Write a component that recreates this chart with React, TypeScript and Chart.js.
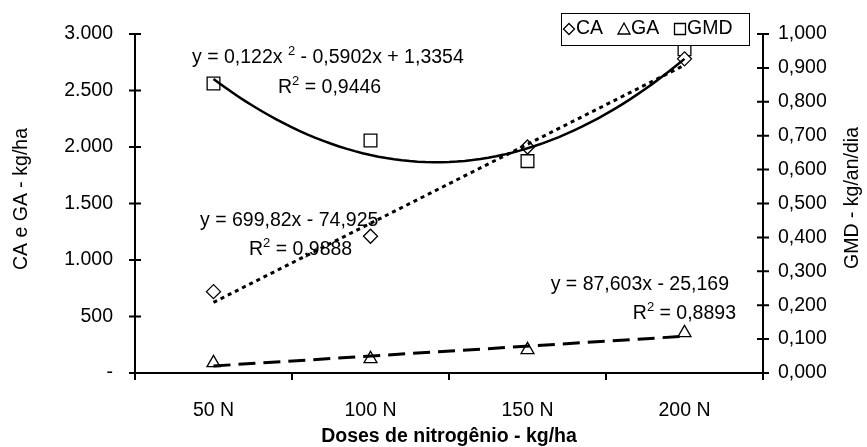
import React, { useEffect, useRef } from 'react';
import { Chart, registerables } from 'chart.js';
Chart.register(...registerables);

const categories = ['50 N', '100 N', '150 N', '200 N'];
const xPositions = [1, 2, 3, 4];
const caValues = [720, 1210, 2000, 2780];
const gaValues = [90, 125, 205, 355];
const gmdValues = [0.854, 0.686, 0.625, 0.955];
// trendline coefficients as printed on the chart
const caTrend = [699.82, -74.925];
const gaTrend = [87.603, -25.169];
const gmdTrend = [0.122, -0.5902, 1.3354];
const leftTitle = 'CA e GA - kg/ha';
const rightTitle = 'GMD - kg/an/dia';
const xTitle = 'Doses de nitrogênio - kg/ha';

const FONT = "'Liberation Sans', Arial, sans-serif";
const FS = 19.5;

const fmtThousands = (v: number) =>
  v === 0 ? '-' : String(Math.round(v)).replace(/\B(?=(\d{3})+(?!\d))/g, '.');

type Part = { t: string; sup?: boolean };
function richWidth(ctx: CanvasRenderingContext2D, parts: Part[]) {
  let w = 0;
  for (const p of parts) {
    ctx.font = p.sup ? `${Math.round(FS * 0.65)}px ${FONT}` : `${FS}px ${FONT}`;
    w += ctx.measureText(p.t).width;
  }
  return w;
}
function drawRich(ctx: CanvasRenderingContext2D, parts: Part[], x: number, y: number, align: 'left' | 'right' = 'left') {
  let cx = align === 'left' ? x : x - richWidth(ctx, parts);
  ctx.textBaseline = 'middle';
  ctx.textAlign = 'left';
  for (const p of parts) {
    if (p.sup) {
      ctx.font = `${Math.round(FS * 0.65)}px ${FONT}`;
      ctx.fillText(p.t, cx, y - 7);
    } else {
      ctx.font = `${FS}px ${FONT}`;
      ctx.fillText(p.t, cx, y);
    }
    cx += ctx.measureText(p.t).width;
  }
}

function drawMarker(ctx: CanvasRenderingContext2D, kind: string, x: number, y: number) {
  ctx.save();
  ctx.beginPath();
  if (kind === 'diamond') {
    const r = 5.5;
    ctx.moveTo(x, y - r); ctx.lineTo(x + r, y); ctx.lineTo(x, y + r); ctx.lineTo(x - r, y); ctx.closePath();
  } else if (kind === 'triangle') {
    ctx.moveTo(x, y - 6); ctx.lineTo(x + 6, y + 5); ctx.lineTo(x - 6, y + 5); ctx.closePath();
  } else {
    ctx.rect(x - 5.5, y - 5.5, 11, 11);
  }
  ctx.fillStyle = '#fff';
  ctx.fill();
  ctx.lineWidth = 1.3;
  ctx.strokeStyle = '#000';
  ctx.stroke();
  ctx.restore();
}

const decorPlugin = {
  id: 'decor',
  afterDraw(chart: any) {
    const ctx: CanvasRenderingContext2D = chart.ctx;
    const { left, right, top, bottom } = chart.chartArea;
    const yL = chart.scales.y;
    const yR = chart.scales.y2;
    const xs = chart.scales.x;
    ctx.save();
    ctx.strokeStyle = '#000';
    ctx.lineWidth = 2;
    ctx.beginPath();
    ctx.moveTo(left, top); ctx.lineTo(left, bottom);
    ctx.moveTo(right, top); ctx.lineTo(right, bottom);
    ctx.moveTo(left, bottom); ctx.lineTo(right, bottom);
    yL.ticks.forEach((t: any) => {
      const py = yL.getPixelForValue(t.value);
      ctx.moveTo(left - 6, py); ctx.lineTo(left + 6, py);
    });
    yR.ticks.forEach((t: any) => {
      const py = yR.getPixelForValue(t.value);
      ctx.moveTo(right - 6, py); ctx.lineTo(right + 6, py);
    });
    for (let b = 0.5; b <= 4.5; b += 1) {
      const px = xs.getPixelForValue(b);
      ctx.moveTo(px, bottom); ctx.lineTo(px, bottom + 7);
    }
    ctx.stroke();

    // axis titles
    ctx.fillStyle = '#000';
    ctx.font = `${FS}px ${FONT}`;
    ctx.textAlign = 'center';
    ctx.textBaseline = 'middle';
    ctx.save();
    ctx.translate(22, 199);
    ctx.rotate(-Math.PI / 2);
    ctx.fillText(leftTitle, 0, 0);
    ctx.restore();
    ctx.save();
    ctx.translate(853, 198);
    ctx.rotate(-Math.PI / 2);
    ctx.fillText(rightTitle, 0, 0);
    ctx.restore();
    ctx.font = `bold ${FS}px ${FONT}`;
    ctx.fillText(xTitle, (left + right) / 2, 437);

    // trendline equations
    ctx.fillStyle = '#000';
    drawRich(ctx, [{ t: 'y = 0,122x ' }, { t: '2', sup: true }, { t: ' - 0,5902x + 1,3354' }], 192, 58);
    drawRich(ctx, [{ t: 'R' }, { t: '2', sup: true }, { t: ' = 0,9446' }], 278, 88);
    drawRich(ctx, [{ t: 'y = 699,82x - 74,925' }], 200, 221);
    drawRich(ctx, [{ t: 'R' }, { t: '2', sup: true }, { t: ' = 0,9888' }], 249, 250);
    drawRich(ctx, [{ t: 'y = 87,603x - 25,169' }], 729, 285, 'right');
    drawRich(ctx, [{ t: 'R' }, { t: '2', sup: true }, { t: ' = 0,8893' }], 736, 314, 'right');

    // legend
    const bx = 561, by = 13, bw = 188, bh = 32;
    ctx.fillStyle = '#fff';
    ctx.fillRect(bx, by, bw, bh);
    ctx.lineWidth = 1;
    ctx.strokeStyle = '#000';
    ctx.strokeRect(bx + 0.5, by + 0.5, bw, bh);
    const cy = by + bh / 2;
    drawMarker(ctx, 'diamond', 569, cy);
    drawMarker(ctx, 'triangle', 624, cy);
    drawMarker(ctx, 'square', 680, cy);
    ctx.fillStyle = '#000';
    ctx.font = `${FS}px ${FONT}`;
    ctx.textAlign = 'left';
    ctx.textBaseline = 'middle';
    ctx.fillText('CA', 576, cy);
    ctx.fillText('GA', 631, cy);
    ctx.fillText('GMD', 687, cy);
    ctx.restore();
  },
};

export default function App() {
  const ref = useRef<HTMLCanvasElement | null>(null);
  useEffect(() => {
    document.body.style.margin = '0';
    const canvas = ref.current!;
    const linPts = (c: number[]) => [xPositions[0], xPositions[xPositions.length - 1]].map((x) => ({ x, y: c[0] * x + c[1] }));
    const quadPts: { x: number; y: number }[] = [];
    for (let i = 0; i <= 60; i++) {
      const x = xPositions[0] + (i * (xPositions[3] - xPositions[0])) / 60;
      quadPts.push({ x, y: gmdTrend[0] * x * x + gmdTrend[1] * x + gmdTrend[2] });
    }
    const marker = (style: string, radius: number) => ({
      showLine: false,
      pointStyle: style,
      pointRadius: radius,
      pointBackgroundColor: '#fff',
      pointBorderColor: '#000',
      pointBorderWidth: 1.3,
      order: 2,
    });
    const trend = (dash: number[], width: number) => ({
      showLine: true,
      pointRadius: 0,
      borderColor: '#000',
      borderWidth: width,
      borderDash: dash,
      tension: 0,
      order: 1,
    });
    const chart = new Chart(canvas, {
      type: 'scatter',
      data: {
        datasets: [
          { label: 'CA', data: xPositions.map((x, i) => ({ x, y: caValues[i] })), yAxisID: 'y', ...marker('rectRot', 7) } as any,
          { label: 'GA', data: xPositions.map((x, i) => ({ x, y: gaValues[i] })), yAxisID: 'y', ...marker('triangle', 7.5) } as any,
          { label: 'GMD', data: xPositions.map((x, i) => ({ x, y: gmdValues[i] })), yAxisID: 'y2', ...marker('rect', 9) } as any,
          { label: 'CA trend', data: linPts(caTrend), yAxisID: 'y', ...trend([4, 4], 3) } as any,
          { label: 'GA trend', data: linPts(gaTrend), yAxisID: 'y', ...trend([17, 8], 3) } as any,
          { label: 'GMD trend', data: quadPts, yAxisID: 'y2', ...trend([], 2.5) } as any,
        ],
      },
      options: {
        responsive: false,
        animation: false,
        layout: { padding: { top: 34, left: 0, right: 0, bottom: 0 } },
        plugins: { legend: { display: false }, tooltip: { enabled: false } },
        scales: {
          x: {
            type: 'linear',
            min: 0.5,
            max: 4.5,
            grid: { display: false, drawTicks: false },
            border: { display: false },
            afterBuildTicks: (s: any) => { s.ticks = xPositions.map((v) => ({ value: v })); },
            afterFit: (s: any) => { s.height = 74; },
            ticks: {
              padding: 26,
              color: '#000',
              font: { family: FONT, size: FS },
              callback: (v: any) => categories[Math.round(v) - 1] ?? '',
            },
          },
          y: {
            type: 'linear',
            position: 'left',
            min: 0,
            max: 3000,
            grid: { display: false, drawTicks: false },
            border: { display: false },
            afterFit: (s: any) => { s.width = 135; },
            ticks: {
              stepSize: 500,
              padding: 22,
              color: '#000',
              font: { family: FONT, size: FS },
              callback: (v: any) => fmtThousands(Number(v)),
            },
          },
          y2: {
            type: 'linear',
            position: 'right',
            min: 0,
            max: 1,
            grid: { display: false, drawTicks: false },
            border: { display: false },
            afterFit: (s: any) => { s.width = 104; },
            ticks: {
              stepSize: 0.1,
              padding: 15,
              color: '#000',
              font: { family: FONT, size: FS },
              callback: (v: any) => Number(v).toFixed(3).replace('.', ','),
            },
          },
        },
      } as any,
      plugins: [decorPlugin],
    });
    return () => chart.destroy();
  }, []);
  return (
    <div style={{ width: 867, height: 447, background: '#fff' }}>
      <canvas ref={ref} width={867} height={447} />
    </div>
  );
}
